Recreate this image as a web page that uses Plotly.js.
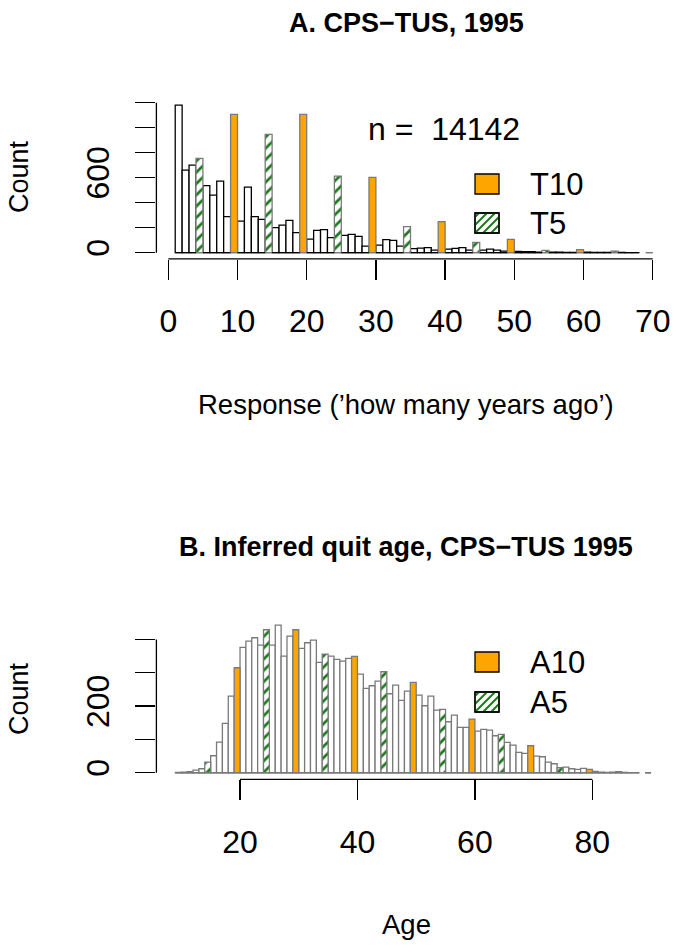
<!DOCTYPE html>
<html><head><meta charset="utf-8">
<script src="https://cdn.plot.ly/plotly-3.0.1.min.js"></script>
<style>html,body{margin:0;padding:0;background:#fff}#chart{width:679px;height:947px}</style>
</head><body><div id="chart"></div>
<script>
// ---------- Panel A: response "how many years ago" (bins (k-1,k], k = upper edge) ----------
const respWhiteBins = [2,3,4,6,7,8,9,11,12,13,14,16,17,18,19,21,22,23,24,26,27,28,29,31,32,33,34,36,37,38,39,41,42,43,44,46,47,48,49,51,52,53,54,56,57,58,59,61,62,63,64,66,67,68];
const respWhiteCounts = [1181,661,701,536,461,573,288,253,525,288,267,200,221,259,160,109,179,184,120,139,147,131,53,61,104,99,53,32,37,40,20,29,35,40,21,21,29,21,13,10,8,8,5,5,5,3,3,4,3,3,2,2,1,1];
const respT10Bins = [10,20,30,40,50,60,70];
const respT10Counts = [1107,1107,603,248,107,24,0];
const respT5Bins = [5,15,25,35,45,55,65];
const respT5Counts = [755,947,613,208,83,19,13];
const respTicks = [0,10,20,30,40,50,60,70];
const countTicksA = [0,200,400,600,800,1000,1200];
const countLabelsA = ['0','','','600','','',''];
const nLabel = 'n = \u00a014142';

// ---------- Panel B: inferred quit age ----------
const ageWhiteBins = [10,11,12,13,14,16,17,18,19,21,22,23,24,26,27,28,29,31,32,33,34,36,37,38,39,41,42,43,44,46,47,48,49,51,52,53,54,56,57,58,59,61,62,63,64,66,67,68,69,71,72,73,74,76,77,78,79,81,82,83,84,86,87,88];
const ageWhiteCounts = [1,2,3,8,12,51,92,148,230,376,395,405,383,383,443,350,410,373,390,398,331,350,340,335,343,296,253,261,275,237,263,217,245,233,201,230,188,153,173,136,136,125,130,128,111,91,83,61,58,50,48,32,27,17,12,10,13,4,2,1,2,1,0,0];
const ageA10Bins = [20,30,40,50,60,70,80,90];
const ageA10Counts = [315,429,349,271,161,81,10,0];
const ageA5Bins = [15,25,35,45,55,65,75,85];
const ageA5Counts = [32,429,356,303,190,115,15,3];
const ageTicks = [20,40,60,80];
const countTicksB = [0,100,200,300,400];
const countLabelsB = ['0','','200','',''];

// ---------- styling ----------
const FONT = 'Liberation Sans, Arial, Helvetica, sans-serif';
const ORANGE = '#FFA500', GREEN = '#1C7A1C', GREY = '#7A7A7A';
const W = 679, H = 947;
const px = v => v / W;
const py = v => 1 - v / H;

function mids(bins){ return bins.map(k => k - 0.5); }
function bars(bins, counts, xa, ya, fill, line, pattern){
  const t = {type:'bar', x:mids(bins), y:counts, width:1, xaxis:xa, yaxis:ya,
    marker:{color:fill, line:{color:line, width:1.3}}, hoverinfo:'skip'};
  if (pattern) t.marker.pattern = {shape:'/', fgcolor:GREEN, bgcolor:'white', size:8, solidity:0.35, fillmode:'replace'};
  return t;
}
function baseline(bins, xa, ya, color){
  const x = [], y = [];
  bins.forEach(k => { x.push(k - 1, k, null); y.push(0, 0, null); });
  return {type:'scatter', mode:'lines', x, y, xaxis:xa, yaxis:ya, line:{color, width:1.3}, hoverinfo:'skip'};
}

const data = [
  baseline(respWhiteBins, 'x', 'y', 'black'),
  baseline(respT10Bins, 'x', 'y', GREY),
  baseline(respT5Bins, 'x', 'y', GREY),
  bars(respWhiteBins, respWhiteCounts, 'x', 'y', 'white', 'black'),
  bars(respT10Bins, respT10Counts, 'x', 'y', ORANGE, GREY),
  bars(respT5Bins, respT5Counts, 'x', 'y', 'white', GREY, true),
  baseline(ageWhiteBins, 'x2', 'y2', GREY),
  baseline(ageA10Bins, 'x2', 'y2', GREY),
  baseline(ageA5Bins, 'x2', 'y2', GREY),
  bars(ageWhiteBins, ageWhiteCounts, 'x2', 'y2', 'white', GREY),
  bars(ageA10Bins, ageA10Counts, 'x2', 'y2', ORANGE, GREY),
  bars(ageA5Bins, ageA5Counts, 'x2', 'y2', 'white', GREY, true)
];

const axisStyle = {showline:false, zeroline:false, showgrid:false, ticks:'outside', ticklen:20,
  tickwidth:1.3, tickcolor:'black', tickfont:{size:32, color:'black', family:FONT}, fixedrange:true,
  ticklabelstandoff:14};

// R-style axis lines (only spanning the tick range)
function axisLines(xr, yr, xt, yt){
  return [
    {type:'line', xref:xr, yref:yr + ' domain', x0:xt[0], x1:xt[xt.length-1], y0:0, y1:0, line:{color:'black', width:1.3}},
    {type:'line', xref:xr + ' domain', yref:yr, x0:0, x1:0, y0:yt[0], y1:yt[yt.length-1], line:{color:'black', width:1.3}}
  ];
}
// legend boxes in pixel units
function box(x0, y0, x1, y1, fill){
  return {type:'rect', xref:'paper', yref:'paper', x0:px(x0), x1:px(x1), y0:py(y1), y1:py(y0),
    fillcolor:fill, line:{color:'black', width:1.3}};
}
function hatch(x0, y0, x1, y1, step){
  let d = '';
  for (let c = x0 + y0 + step / 2; c < x1 + y1; c += step){
    const xa = Math.max(x0, c - y1), xb = Math.min(x1, c - y0);
    if (xb <= xa) continue;
    d += 'M' + px(xa) + ',' + py(c - xa) + 'L' + px(xb) + ',' + py(c - xb);
  }
  return {type:'path', xref:'paper', yref:'paper', path:d, line:{color:GREEN, width:2}};
}
function hatchedBox(x0, y0, x1, y1){
  return [box(x0, y0, x1, y1, 'white'), hatch(x0, y0, x1, y1, 8), box(x0, y0, x1, y1, 'rgba(0,0,0,0)')];
}

const shapes = [].concat(
  axisLines('x', 'y', respTicks, countTicksA),
  axisLines('x2', 'y2', ageTicks, countTicksB),
  [box(475, 174, 499, 194, ORANGE)], hatchedBox(475, 213, 499, 233),
  [box(475, 652, 499, 672, ORANGE)], hatchedBox(475, 692, 499, 712)
);

function txt(text, x, y, size, opts){
  return Object.assign({text, xref:'paper', yref:'paper', x:px(x), y:py(y), showarrow:false,
    xanchor:'center', yanchor:'middle', font:{size, color:'black', family:FONT}}, opts || {});
}
const annotations = [
  txt('<b>A. CPS\u2212TUS, 1995</b>', 406, 23, 27),
  txt('<b>B. Inferred quit age, CPS\u2212TUS 1995</b>', 406, 547, 27),
  txt('Count', 19, 177, 27, {textangle:-90}),
  txt('Count', 19, 699, 27, {textangle:-90}),
  txt('Response (\u2019how many years ago\u2019)', 406, 404, 27.5),
  txt('Age', 406, 924, 27.5),
  txt(nLabel, 366, 129, 32, {xanchor:'left'}),
  txt('T10', 528, 184, 31, {xanchor:'left'}),
  txt('T5', 528, 223, 31, {xanchor:'left'}),
  txt('A10', 528, 662, 31, {xanchor:'left'}),
  txt('A5', 528, 702, 31, {xanchor:'left'})
];

const layout = {
  width:W, height:H, margin:{l:0, r:0, t:0, b:0}, paper_bgcolor:'white', plot_bgcolor:'rgba(0,0,0,0)',
  showlegend:false, barmode:'overlay', font:{family:FONT, color:'black'},
  xaxis:Object.assign({}, axisStyle, {domain:[px(156.4), px(664.6)], range:[-1.72, 71.72], anchor:'y', tickvals:respTicks}),
  yaxis:Object.assign({}, axisStyle, {domain:[py(258.95), py(99.2)], range:[-50, 1228], anchor:'x', tickvals:countTicksA, ticktext:countLabelsA, tickangle:-90}),
  xaxis2:Object.assign({}, axisStyle, {domain:[px(156.4), px(670.1)], range:[5.76, 93.24], anchor:'y2', tickvals:ageTicks}),
  yaxis2:Object.assign({}, axisStyle, {domain:[py(779.4), py(619.4)], range:[-20, 460], anchor:'x2', tickvals:countTicksB, ticktext:countLabelsB, tickangle:-90}),
  shapes, annotations
};

Plotly.newPlot('chart', data, layout, {staticPlot:true, displayModeBar:false});
</script>
</body></html>
